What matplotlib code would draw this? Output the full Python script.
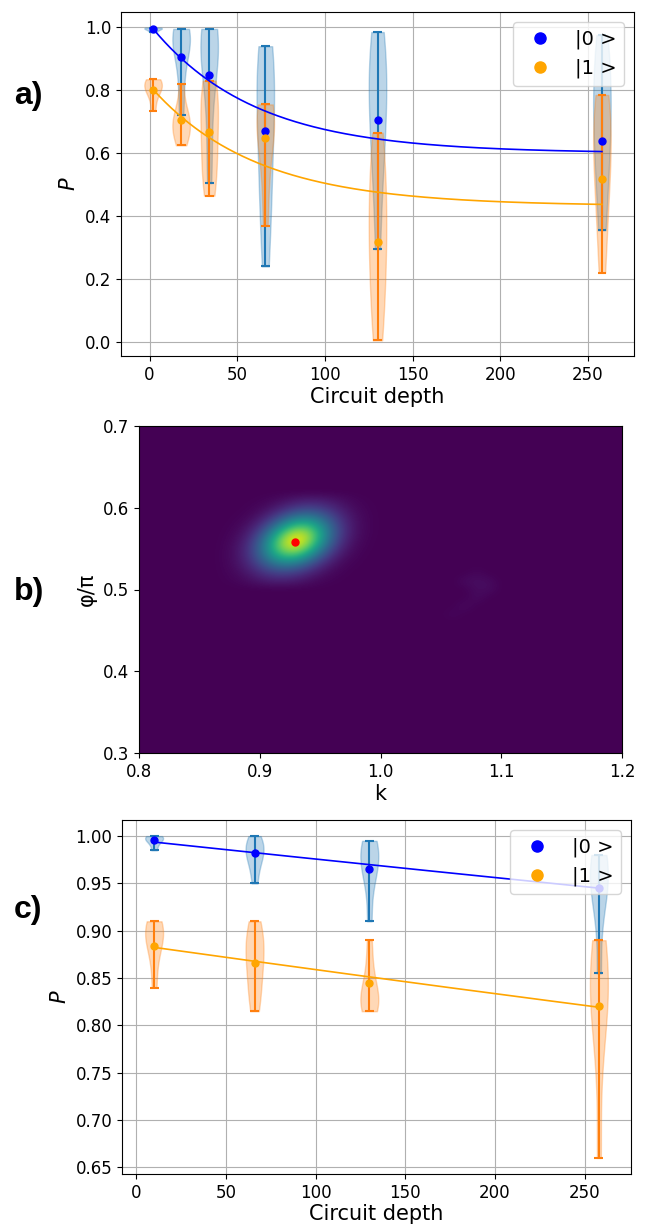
import matplotlib.pyplot as plt
import numpy as np

# ---- panel a: probabilities vs circuit depth ----
depth_a = [2, 18, 34, 66, 130, 258]
samples_a0 = [[0.985, 0.99, 0.994, 0.997, 0.998, 0.999],
              [0.72, 0.8, 0.88, 0.93, 0.95, 0.97, 0.98, 0.99, 0.995],
              [0.505, 0.65, 0.8, 0.88, 0.92, 0.95, 0.97, 0.99, 0.995],
              [0.24, 0.4, 0.5, 0.6, 0.7, 0.78, 0.85, 0.9, 0.94],
              [0.295, 0.5, 0.6, 0.68, 0.75, 0.82, 0.88, 0.93, 0.985],
              [0.355, 0.5, 0.6, 0.68, 0.75, 0.82, 0.9, 0.975]]
samples_a1 = [[0.735, 0.78, 0.80, 0.81, 0.82, 0.83, 0.835],
              [0.625, 0.65, 0.67, 0.69, 0.70, 0.72, 0.75, 0.82],
              [0.465, 0.52, 0.58, 0.64, 0.7, 0.75, 0.8, 0.83],
              [0.37, 0.5, 0.6, 0.65, 0.69, 0.72, 0.74, 0.755],
              [0.005, 0.1, 0.2, 0.28, 0.35, 0.42, 0.5, 0.58, 0.665],
              [0.22, 0.35, 0.45, 0.52, 0.58, 0.64, 0.7, 0.75, 0.785]]
mean_a0 = [0.995, 0.907, 0.85, 0.67, 0.706, 0.64]
mean_a1 = [0.802, 0.705, 0.667, 0.648, 0.317, 0.517]
# fitted decay: amplitude, decay depth, offset
fit_a0 = (0.409, 59.0, 0.600)
fit_a1 = (0.383, 60.0, 0.432)

# ---- panel b: likelihood map over (k, phi/pi) ----
k_grid = np.round(np.arange(0.80, 1.2001, 0.01), 2)
phi_grid = np.round(np.arange(0.30, 0.7001, 0.01), 2)
peak_k = [0.87, 0.88, 0.89, 0.90, 0.91, 0.92, 0.93, 0.94, 0.95, 0.96, 0.97, 0.98, 0.99, 1.00]
peak_phi = [0.51, 0.52, 0.53, 0.54, 0.55, 0.56, 0.57, 0.58, 0.59, 0.60, 0.61]
peak_vals = [
    [0.004, 0.012, 0.029, 0.052, 0.072, 0.074, 0.059, 0.035, 0.016, 0.006, 0.002, 0.000, 0.000, 0.000],
    [0.007, 0.023, 0.060, 0.116, 0.171, 0.191, 0.163, 0.105, 0.052, 0.019, 0.006, 0.001, 0.000, 0.000],
    [0.010, 0.036, 0.098, 0.205, 0.326, 0.393, 0.360, 0.251, 0.133, 0.053, 0.016, 0.004, 0.001, 0.000],
    [0.011, 0.043, 0.128, 0.289, 0.495, 0.643, 0.635, 0.477, 0.271, 0.118, 0.039, 0.010, 0.002, 0.000],
    [0.010, 0.042, 0.134, 0.324, 0.598, 0.839, 0.893, 0.722, 0.443, 0.207, 0.073, 0.020, 0.004, 0.001],
    [0.007, 0.032, 0.111, 0.290, 0.577, 0.872, 1.000, 0.872, 0.577, 0.290, 0.111, 0.032, 0.007, 0.001],
    [0.004, 0.020, 0.073, 0.207, 0.443, 0.722, 0.893, 0.839, 0.598, 0.324, 0.134, 0.042, 0.010, 0.002],
    [0.002, 0.010, 0.039, 0.118, 0.271, 0.477, 0.635, 0.643, 0.495, 0.289, 0.128, 0.043, 0.011, 0.002],
    [0.001, 0.004, 0.016, 0.053, 0.133, 0.251, 0.360, 0.393, 0.326, 0.205, 0.098, 0.036, 0.010, 0.002],
    [0.000, 0.001, 0.006, 0.019, 0.052, 0.105, 0.163, 0.191, 0.171, 0.116, 0.060, 0.023, 0.007, 0.002],
    [0.000, 0.000, 0.002, 0.006, 0.016, 0.035, 0.059, 0.074, 0.072, 0.052, 0.029, 0.012, 0.004, 0.001],
]
# faint secondary crescent
crescent_k = [1.08, 1.07, 1.08, 1.09, 1.08, 1.09, 1.08, 1.07, 1.06]
crescent_phi = [0.52, 0.51, 0.51, 0.51, 0.50, 0.50, 0.49, 0.48, 0.47]
crescent_vals = [0.02, 0.03, 0.035, 0.03, 0.03, 0.03, 0.03, 0.03, 0.02]
best_k, best_phi = 0.929, 0.5585

# ---- panel c: probabilities vs circuit depth ----
depth_c = [10, 66, 130, 258]
samples_c0 = [[0.985, 0.992, 0.996, 0.998, 0.999, 1.0],
              [0.95, 0.965, 0.975, 0.98, 0.985, 0.99, 0.995, 1.0],
              [0.91, 0.95, 0.965, 0.975, 0.982, 0.99, 0.995],
              [0.855, 0.92, 0.94, 0.955, 0.965, 0.975, 0.98]]
samples_c1 = [[0.84, 0.87, 0.885, 0.895, 0.9, 0.905, 0.91],
              [0.815, 0.83, 0.845, 0.86, 0.87, 0.88, 0.89, 0.9, 0.91],
              [0.815, 0.82, 0.825, 0.83, 0.84, 0.86, 0.89],
              [0.66, 0.78, 0.82, 0.84, 0.85, 0.86, 0.89]]
mean_c0 = [0.996, 0.982, 0.965, 0.945]
mean_c1 = [0.884, 0.866, 0.845, 0.820]
fit_c0 = (0.9957, 4940.0, 0.0)
fit_c1 = (0.8851, 3333.0, 0.0)

TICK = 12
LABEL = 15


def violins(ax, depths, samples, color):
    parts = ax.violinplot(samples, positions=depths, widths=10)
    for body in parts['bodies']:
        body.set_facecolor(color)
        body.set_edgecolor(color)
        body.set_alpha(0.3)
    for key in ['cmaxes', 'cmins', 'cbars']:
        parts[key].set_color(color)


def depth_panel(ax, depths, s0, s1, m0, m1, f0, f1):
    violins(ax, depths, s0, 'C0')
    violins(ax, depths, s1, 'C1')
    x = np.linspace(depths[0], depths[-1], 300)
    ax.plot(x, f0[0] * np.exp(-x / f0[1]) + f0[2], color='blue', lw=1.2)
    ax.plot(x, f1[0] * np.exp(-x / f1[1]) + f1[2], color='orange', lw=1.2)
    ax.plot(depths, m0, 'o', color='blue', ms=5, label='|0 >')
    ax.plot(depths, m1, 'o', color='orange', ms=5, label='|1 >')
    ax.grid(True)
    ax.set_axisbelow(True)
    ax.legend(loc='upper right', fontsize=14, markerscale=1.6)
    ax.set_xlabel('Circuit depth', fontsize=LABEL, labelpad=2)
    ax.set_ylabel('$P$', fontsize=LABEL)
    ax.tick_params(labelsize=TICK)


W, H = 647, 1224
fig = plt.figure(figsize=(W / 100, H / 100), dpi=100)

def box(left, top, right, bottom):
    return [left / W, 1 - bottom / H, (right - left) / W, (bottom - top) / H]

ax_a = fig.add_axes(box(121, 12, 634, 356))
depth_panel(ax_a, depth_a, samples_a0, samples_a1, mean_a0, mean_a1, fit_a0, fit_a1)

ax_b = fig.add_axes(box(139, 426, 622, 753))
surface = np.zeros((len(phi_grid), len(k_grid)))
for r, p in enumerate(peak_phi):
    for c, k in enumerate(peak_k):
        surface[np.argmin(abs(phi_grid - p)), np.argmin(abs(k_grid - k))] = peak_vals[r][c]
for k, p, v in zip(crescent_k, crescent_phi, crescent_vals):
    surface[np.argmin(abs(phi_grid - p)), np.argmin(abs(k_grid - k))] = v
ax_b.imshow(surface, origin='lower', cmap='viridis', vmin=0, vmax=1, aspect='auto',
            interpolation='bicubic', extent=[0.795, 1.205, 0.295, 0.705])
ax_b.plot(best_k, best_phi, 'o', color='red', ms=5)
ax_b.set_xlim(0.8, 1.2)
ax_b.set_ylim(0.3, 0.7)
ax_b.set_xticks([0.8, 0.9, 1.0, 1.1, 1.2])
ax_b.set_yticks([0.3, 0.4, 0.5, 0.6, 0.7])
ax_b.set_xlabel('k', fontsize=LABEL, labelpad=2)
ax_b.set_ylabel('φ/π', fontsize=LABEL)
ax_b.tick_params(labelsize=TICK)

ax_c = fig.add_axes(box(122, 820, 631, 1174))
depth_panel(ax_c, depth_c, samples_c0, samples_c1, mean_c0, mean_c1, fit_c0, fit_c1)

for txt, y in [('a)', 96), ('b)', 592), ('c)', 910)]:
    fig.text(14 / W, 1 - y / H, txt, fontsize=23, fontweight='bold',
             family='Liberation Sans', va='center', ha='left')

fig.savefig('out.png', dpi=100)
